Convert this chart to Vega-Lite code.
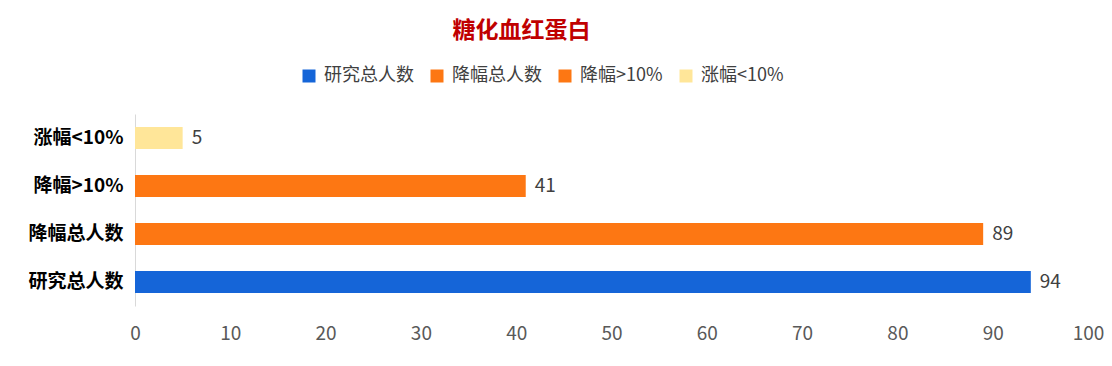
{
  "$schema": "https://vega.github.io/schema/vega-lite/v6.json",
  "width": 953,
  "height": 192,
  "autosize": "none",
  "padding": {"left": 135, "top": 114, "right": 24, "bottom": 60},
  "background": "white",
  "config": {"view": {"stroke": null}},
  "title": {
    "text": "糖化血红蛋白",
    "font": "Noto Sans CJK SC",
    "fontSize": 23,
    "fontWeight": "bold",
    "color": "#C00000",
    "anchor": "middle",
    "dx": -90,
    "offset": 24
  },
  "data": {
    "values": [
      {"category": "研究总人数", "value": 94},
      {"category": "降幅总人数", "value": 89},
      {"category": "降幅>10%", "value": 41},
      {"category": "涨幅<10%", "value": 5}
    ]
  },
  "encoding": {
    "y": {
      "field": "category",
      "type": "nominal",
      "sort": ["涨幅<10%", "降幅>10%", "降幅总人数", "研究总人数"],
      "scale": {"paddingInner": 0.54, "paddingOuter": 0.27},
      "axis": {
        "title": null,
        "ticks": false,
        "domainColor": "#D9D9D9",
        "labelFont": "Noto Sans CJK SC",
        "labelFontSize": 19,
        "labelFontWeight": "bold",
        "labelColor": "#000000",
        "labelPadding": 12
      }
    },
    "x": {
      "field": "value",
      "type": "quantitative",
      "scale": {"domain": [0, 100]},
      "axis": {
        "title": null,
        "values": [0, 10, 20, 30, 40, 50, 60, 70, 80, 90, 100],
        "ticks": false,
        "domain": false,
        "grid": false,
        "labelFlush": false,
        "labelFont": "Noto Sans CJK SC",
        "labelFontSize": 19,
        "labelColor": "#595959",
        "labelPadding": 18
      }
    }
  },
  "layer": [
    {
      "mark": {"type": "bar"},
      "encoding": {
        "color": {
          "field": "category",
          "type": "nominal",
          "scale": {
            "domain": ["研究总人数", "降幅总人数", "降幅>10%", "涨幅<10%"],
            "range": ["#1565D8", "#FD7713", "#FD7713", "#FFE699"]
          },
          "legend": {
            "title": null,
            "orient": "none",
            "direction": "horizontal",
            "legendX": 165,
            "legendY": -47,
            "symbolType": "square",
            "symbolSize": 169,
            "symbolStrokeWidth": 0,
            "labelFont": "Noto Sans CJK SC",
            "labelFontSize": 18,
            "labelColor": "#404040",
            "labelOffset": 6,
            "columnPadding": 14
          }
        }
      }
    },
    {
      "mark": {
        "type": "text",
        "align": "left",
        "dx": 9,
        "font": "Noto Sans CJK SC",
        "fontSize": 19,
        "color": "#404040"
      },
      "encoding": {
        "text": {"field": "value", "type": "quantitative"}
      }
    }
  ]
}
